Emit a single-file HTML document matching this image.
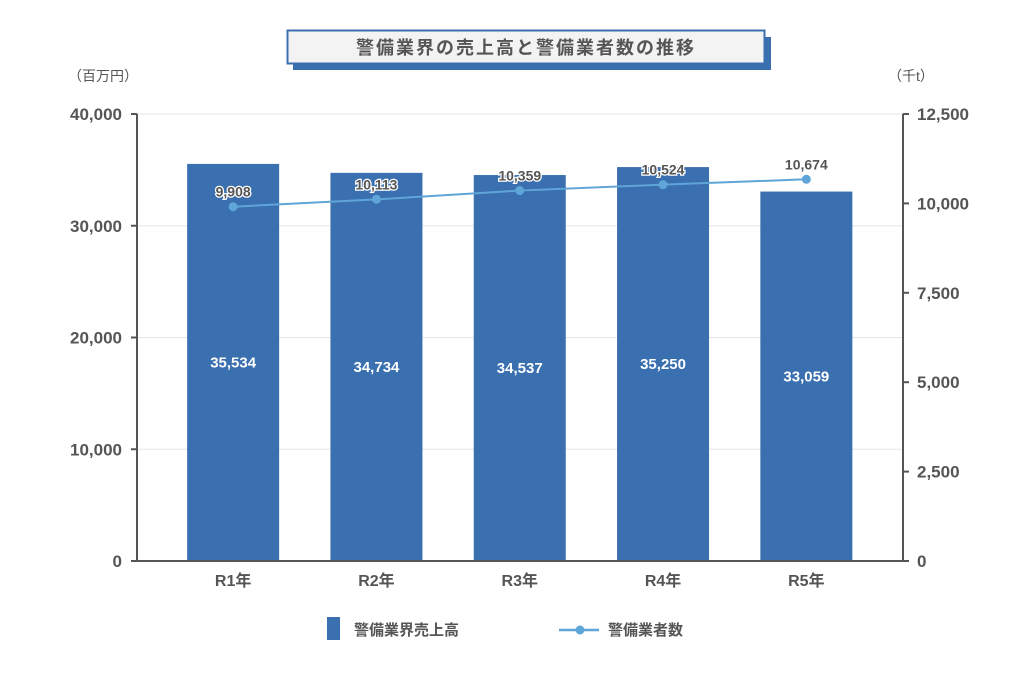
<!DOCTYPE html>
<html><head><meta charset="utf-8">
<style>
body{margin:0;background:#fff;width:1024px;height:675px;overflow:hidden;font-family:"Liberation Sans","Noto Sans CJK JP",sans-serif;}
svg text{font-family:"Liberation Sans","Noto Sans CJK JP",sans-serif;}
</style></head><body>
<svg id="chart" width="1024" height="675" xmlns="http://www.w3.org/2000/svg">
  <g>
    <rect x="293" y="37" width="478" height="33" fill="#3a6fb0"/>
    <rect x="287.5" y="30.5" width="477" height="33" fill="#f3f3f3" stroke="#3a6fb0" stroke-width="2"/>
    <text x="526" y="54" text-anchor="middle" font-size="18" font-weight="bold" fill="#555" letter-spacing="2">警備業界の売上高と警備業者数の推移</text>
  </g>
  <text x="68" y="81" font-size="14" fill="#555">（百万円）</text>
  <text x="888" y="81" font-size="14" fill="#555">（千t）</text>
  <g id="grid"></g>
  <g id="bars"></g>
  <g id="axes"></g>
  <g id="line"></g>
  <g>
    <rect x="327" y="617" width="13" height="23" fill="#3a6fb0"/>
    <text x="354" y="635" font-size="15" font-weight="bold" fill="#555">警備業界売上高</text>
    <line x1="559" y1="630" x2="599" y2="630" stroke="#5fa5d8" stroke-width="2.5"/>
    <circle cx="580" cy="630" r="4.5" fill="#5fa5d8"/>
    <text x="608" y="635" font-size="15" font-weight="bold" fill="#555">警備業者数</text>
  </g>
</svg>
<script>
const categories = ["R1年","R2年","R3年","R4年","R5年"];
const salesValues = [35534,34734,34537,35250,33059];
const companyValues = [9908,10113,10359,10524,10674];
const leftTicks = [0,10000,20000,30000,40000];
const rightTicks = [0,2500,5000,7500,10000,12500];

const NS="http://www.w3.org/2000/svg";
const X0=137,X1=903,Y0=561,Y1=114,bandStart=161.5,step=143.3,barW=92;
const yL=v=>Y0-(v/40000)*(Y0-Y1);
const yR=v=>Y0-(v/12500)*(Y0-Y1);
const xC=i=>bandStart+step*(i+0.5);
const fmt=v=>v.toLocaleString('en-US');
function mk(tag,attrs,parent,txt){const e=document.createElementNS(NS,tag);for(const k in attrs)e.setAttribute(k,attrs[k]);if(txt!==undefined)e.textContent=txt;parent.appendChild(e);return e;}
const grid=document.getElementById('grid'),bars=document.getElementById('bars'),axes=document.getElementById('axes'),line=document.getElementById('line');

leftTicks.forEach(t=>{
  if(t>0){const g=mk('line',{x1:X0,x2:X1,y1:yL(t),y2:yL(t),stroke:'#e6e6e6','stroke-width':1},grid);
  
  }
  const tk=mk('line',{x1:X0-6,x2:X0,y1:yL(t),y2:yL(t),stroke:'#555','stroke-width':2},axes);
  
  
  const tx=mk('text',{x:X0-15,y:yL(t)+6,'text-anchor':'end','font-size':17,'font-weight':'bold',fill:'#555'},axes,fmt(t));
  
  
});
rightTicks.forEach(t=>{
  const tk=mk('line',{x1:X1,x2:X1+6,y1:yR(t),y2:yR(t),stroke:'#555','stroke-width':2},axes);
  
  
  const tx=mk('text',{x:X1+14,y:yR(t)+6,'font-size':17,'font-weight':'bold',fill:'#555'},axes,fmt(t));
  
  
});
const la=mk('line',{x1:X0,x2:X0,y1:Y1,y2:Y0,stroke:'#555','stroke-width':2},axes);


const ra=mk('line',{x1:X1,x2:X1,y1:Y1,y2:Y0,stroke:'#555','stroke-width':2},axes);


const xa=mk('line',{x1:X0-6,x2:X1+6,y1:Y0,y2:Y0,stroke:'#555','stroke-width':2},axes);



categories.forEach((c,i)=>{
  const v=salesValues[i],cx=xC(i);
  const r=mk('rect',{x:cx-barW/2,y:yL(v),width:barW,height:Y0-yL(v),fill:'#3a6fb0'},bars);
  
  
  const t=mk('text',{x:cx,y:(yL(v)+Y0)/2+5,'text-anchor':'middle','font-size':15,'font-weight':'bold',fill:'#fff'},bars,fmt(v));
  
  
  const xl=mk('text',{x:cx,y:Y0+25,'text-anchor':'middle','font-size':16,'font-weight':'bold',fill:'#555'},axes,c);
  
  
});
const pts=companyValues.map((v,i)=>xC(i)+','+yR(v)).join(' ');
const pl=mk('polyline',{points:pts,fill:'none',stroke:'#5fa5d8','stroke-width':2},line);


companyValues.forEach((v,i)=>{
  const c=mk('circle',{cx:xC(i),cy:yR(v),r:4.5,fill:'#5fa5d8'},line);
  
  
  const t=mk('text',{x:xC(i),y:yR(v)-10,'text-anchor':'middle','font-size':14,'font-weight':'bold',fill:'#555',stroke:'#fff','stroke-width':2.5,'paint-order':'stroke'},line,fmt(v));
  
  
});
</script>
</body></html>
